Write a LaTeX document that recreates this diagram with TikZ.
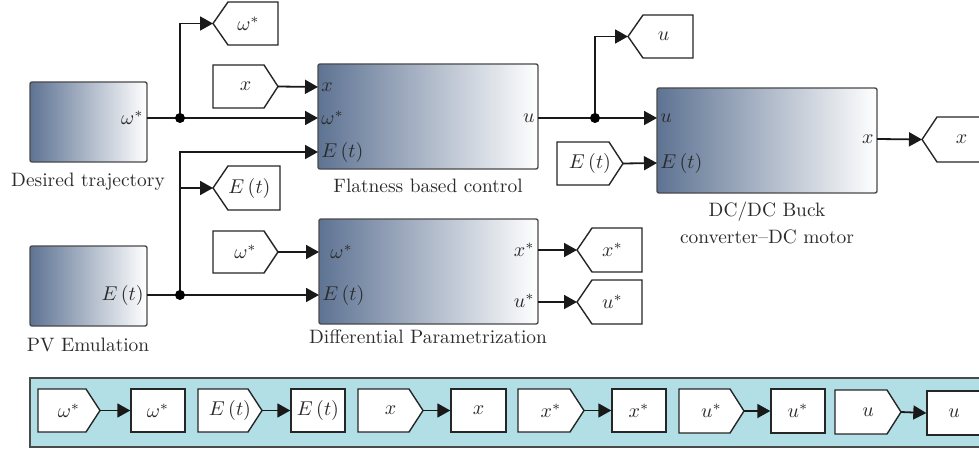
\documentclass[tikz,border=0pt]{standalone}
\usetikzlibrary{arrows.meta,fit}
\definecolor{txt}{HTML}{2B2B2B}
\definecolor{bord}{HTML}{4A4A4A}
\definecolor{bl}{HTML}{5E7393}
\definecolor{panelc}{HTML}{B2DFE6}
\newcommand\gotoTag[6]{%
  \draw[tag] (#2,{(#3+#5)/2}) -- (#2+15,#3) -- (#4,#3) -- (#4,#5) -- (#2+15,#5) -- cycle;
  \coordinate (#1) at (#2,{(#3+#5)/2});
  \node[port] (#1-t) at ({(#2+#4)/2+3},{(#3+#5)/2}) {#6};}
\newcommand\fromTag[6]{%
  \draw[tag] (#2,#3) -- (#4-14,#3) -- (#4,{(#3+#5)/2}) -- (#4-14,#5) -- (#2,#5) -- cycle;
  \coordinate (#1) at (#4,{(#3+#5)/2});
  \node[port] (#1-t) at ({(#2+#4)/2},{(#3+#5)/2}) {#6};}
\newcommand\boxTag[6]{%
  \node[tag, fit={(#2,#3)(#4,#5)}, inner sep=0pt] (#1) {};
  \node[port] (#1-t) at (#1.center) {#6};}
\begin{document}
\begin{tikzpicture}[x=0.5pt,y=-0.5pt, font=\fontsize{9.7}{11.6}\selectfont, text=txt,
 block/.style={draw=bord,line width=0.7pt,rounded corners=1pt,left color=bl,right color=white,inner sep=0pt},
 tag/.style={draw=black!85,line width=0.7pt,fill=white},
 conn/.style={line width=0.9pt,draw=black!90},
 arr/.style={conn,-{Triangle[length=6.5pt,width=7pt]}},
 dot/.style={circle,fill=black,inner sep=0pt,minimum size=5pt},
 port/.style={inner sep=1.5pt},
 captxt/.style={inner sep=0pt}]
\clip (0,0) rectangle (979,449);
% blocks
\node[block, fit={(30,82)(147,162)}] (dt) {};
\node[block, fit={(318,64)(538,169)}] (fb) {};
\node[block, fit={(657,88)(877,193)}] (dc) {};
\node[block, fit={(30,246)(147,326)}] (pv) {};
\node[block, fit={(319,219)(538,324)}] (dp) {};
% port labels
\node[port,anchor=east] (dt-o) at (147,118) {$\omega^{*}$};
\node[port,anchor=east] (pv-o) at (147,295) {$E\,(t)$};
\node[port,anchor=west] (fb-x) at (318,87) {$x$};
\node[port,anchor=west] (fb-w) at (318,118) {$\omega^{*}$};
\node[port,anchor=west] (fb-e) at (318,152) {$E\,(t)$};
\node[port,anchor=east] (fb-u) at (538,118) {$u$};
\node[port,anchor=west] (dc-u) at (657,118) {$u$};
\node[port,anchor=west] (dc-e) at (657,163) {$E\,(t)$};
\node[port,anchor=east] (dc-x) at (877,139) {$x$};
\node[port,anchor=west] (dp-w) at (327,252) {$\omega^{*}$};
\node[port,anchor=west] (dp-e) at (319,295) {$E\,(t)$};
\node[port,anchor=east] (dp-x) at (538,250) {$x^{*}$};
\node[port,anchor=east] (dp-u) at (538,301) {$u^{*}$};
% captions
\node[captxt] (c1) at (88,182) {Desired trajectory};
\node[captxt] (c2) at (428,186) {Flatness based control};
\node[captxt] (c3) at (428,337) {Differential Parametrization};
\node[captxt] (c4) at (88,345) {PV Emulation};
\node[captxt] (c5) at (767,212) {DC/DC Buck};
\node[captxt] (c6) at (767,237) {converter--DC motor};
% tags
\gotoTag{gw}{213}{2}{278}{45}{$\omega^{*}$}
\fromTag{fx}{213}{65}{278}{108}{$x$}
\gotoTag{ge}{213}{166}{280}{210}{$E\,(t)$}
\fromTag{fw}{213}{231}{278}{273}{$\omega^{*}$}
\gotoTag{gxs}{577}{228}{642}{272}{$x^{*}$}
\gotoTag{gus}{577}{280}{642}{324}{$u^{*}$}
\gotoTag{gu}{628}{15}{693}{58}{$u$}
\fromTag{fe}{557}{142}{623}{185}{$E\,(t)$}
\gotoTag{gx}{922}{117}{995}{162}{$x$}
% junctions
\coordinate (j1) at (180,118);
\coordinate (j2) at (180,295);
\coordinate (j3) at (595,118);
\coordinate (k1) at (180,152);
\coordinate (k2) at (180,188);
% connectors
\draw[arr] (147,118) -- (318,118);
\draw[arr] (j1) |- (gw);
\draw[arr] (fx) -- (318,87);
\draw[arr] (147,295) -- (319,295);
\draw[arr] (j2) -- (k1) -- (318,152);
\draw[arr] (k2) -- (ge);
\draw[arr] (fw) -- (319,252);
\draw[arr] (538,250) -- (gxs);
\draw[arr] (538,302) -- (gus);
\draw[arr] (538,118) -- (657,118);
\draw[arr] (j3) |- (gu);
\draw[arr] (fe) -- (657,163);
\draw[arr] (877,139) -- (gx);
\node[dot] at (j1) {};
\node[dot] at (j2) {};
\node[dot] at (j3) {};
% bottom panel
\node[fit={(30,378)(995,447)}, draw=bord, line width=0.7pt, fill=panelc, inner sep=0pt] (panel) {};
\fromTag{p1}{38}{389}{100}{432}{$\omega^{*}$}
\boxTag{b1}{131}{389}{185}{432}{$\omega^{*}$}
\fromTag{p2}{198}{389}{262}{432}{$E\,(t)$}
\boxTag{b2}{291}{389}{345}{432}{$E\,(t)$}
\fromTag{p3}{358}{389}{423}{432}{$x$}
\boxTag{b3}{451}{389}{506}{432}{$x$}
\fromTag{p4}{518}{389}{584}{432}{$x^{*}$}
\boxTag{b4}{612}{389}{666}{432}{$x^{*}$}
\fromTag{p5}{679}{389}{744}{433}{$u^{*}$}
\boxTag{b5}{771}{389}{825}{433}{$u^{*}$}
\fromTag{p6}{835}{390}{901}{434}{$u$}
\boxTag{b6}{927}{391}{981}{435}{$u$}
\draw[arr] (p1) -- (b1.west);
\draw[arr] (p2) -- (b2.west);
\draw[arr] (p3) -- (b3.west);
\draw[arr] (p4) -- (b4.west);
\draw[arr] (p5) -- (b5.west);
\draw[arr] (p6) -- (b6.west);
\end{tikzpicture}
\end{document}
